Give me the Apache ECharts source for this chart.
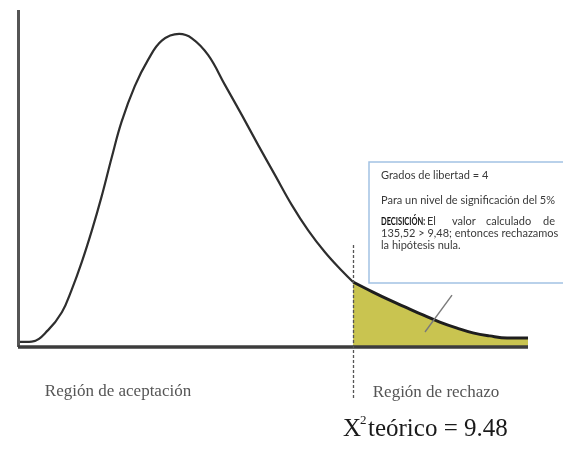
<!DOCTYPE html>
<html>
<head>
<meta charset="utf-8">
<script src="https://cdn.jsdelivr.net/npm/echarts@6/dist/echarts.min.js"></script>
<style>html,body{margin:0;padding:0;background:#fff}#c{width:563px;height:450px}</style>
</head>
<body>
<div id="c"></div>
<script>
// Curve (acceptance part)
const curveX = [0, 2.7, 5.9, 8.6, 10.5, 12.5, 14.5, 16.4, 18.4, 20.3, 22.9, 25.5, 28.2, 31.6, 34.1, 37.3, 40.6, 43.9, 47.1, 50.4, 53.7, 56.9, 60.2, 63.5, 65.7];
const curveY = [1.5, 1.6, 5.0, 10.3, 16.9, 25.2, 34.7, 44.7, 56.4, 66.8, 77.4, 85.2, 90.9, 92.9, 91.6, 86.6, 77.7, 68.8, 59.9, 51.0, 42.1, 34.6, 28.1, 22.6, 19.3];
// Tail (rejection region)
const tailX = [65.7, 69.6, 72.9, 76.3, 79.4, 82.7, 86.1, 89.2, 92.5, 95.9, 100];
const tailY = [19.3, 16.3, 13.9, 11.6, 9.5, 7.4, 5.6, 4.2, 3.3, 2.7, 2.7];
const critical = 65.7;
const regionLabels = ['Región de aceptación', 'Región de rechazo'];
const boxLines = ['Grados de libertad = 4', 'Para un nivel de significación del 5%'];
const decisionHead = 'DECISICIÓN:';
const decisionWords = ['El', 'valor', 'calculado', 'de'];
const decisionLine2 = '135,52 > 9,48; entonces rechazamos';
const decisionLine3 = 'la hipótesis nula.';
const chiLabel = ['X', '2', 'teórico = 9.48'];

const chart = echarts.init(document.getElementById('c'), null, {renderer: 'canvas'});
const zip = (a, b) => a.map((v, i) => [v, b[i]]);
const mlStyle = (c, w, t) => ({color: c, width: w, type: t || 'solid'});
const boxFont = '11px Lato';
const boxText = (x, y, text, extra) => Object.assign({type: 'text', x: x, y: y, z: 11,
  style: {text: text, font: boxFont, fill: '#3a3a3a', verticalAlign: 'middle'}}, extra || {});

const option = {
  animation: false,
  backgroundColor: '#fff',
  grid: {left: 18, right: 35, top: 10, bottom: 1.9},
  xAxis: {type: 'value', min: 0, max: 100, show: false},
  yAxis: {type: 'value', min: -30, max: 100, show: false},
  series: [
    {
      type: 'line', data: zip(curveX, curveY), smooth: 0.4, symbol: 'none',
      lineStyle: {color: '#2e2e2e', width: 2.2}, z: 3,
      markLine: {
        silent: true, symbol: 'none', animation: false,
        label: {show: false},
        data: [
          [{coord: [0, 0], lineStyle: mlStyle('#555', 3)}, {coord: [0, 100]}],
          [{coord: [0, 0], lineStyle: mlStyle('#3c3c3c', 3.5)}, {coord: [100, 0]}],
          [{coord: [critical, 30.3], lineStyle: {color: '#555', width: 1.3, type: [3, 2]}}, {coord: [critical, -15.7]}],
          [{coord: [-0.2, -8], lineStyle: mlStyle('#333', 2)}, {coord: [100.4, -8]}],
          [{coord: [-0.2, -8], lineStyle: mlStyle('#333', 2)}, {coord: [2, -4.5]}],
          [{coord: [-0.2, -8], lineStyle: mlStyle('#333', 2)}, {coord: [2, -11.5]}],
          [{coord: [100.4, -8], lineStyle: mlStyle('#333', 2)}, {coord: [98.2, -4.5]}],
          [{coord: [100.4, -8], lineStyle: mlStyle('#333', 2)}, {coord: [98.4, -11.2]}],
          [{coord: [79.8, 4.45], lineStyle: mlStyle('#7a7a7a', 1.4)}, {coord: [85.1, 15.4]}]
        ]
      }
    },
    {
      type: 'line', data: zip(tailX, tailY), smooth: 0.4, symbol: 'none',
      lineStyle: {color: '#1e1e1e', width: 3}, z: 2,
      areaStyle: {color: '#c9c450', opacity: 1}
    }
  ],
  graphic: [
    {type: 'text', x: 118, y: 392, style: {text: regionLabels[0], font: '17px "Liberation Serif"', fill: '#555', align: 'center', verticalAlign: 'middle'}},
    {type: 'text', x: 436, y: 393, style: {text: regionLabels[1], font: '17px "Liberation Serif"', fill: '#555', align: 'center', verticalAlign: 'middle'}},
    {type: 'text', x: 343, y: 429, style: {text: chiLabel[0], font: '25px "Liberation Serif"', fill: '#1a1a1a', align: 'left', verticalAlign: 'middle'}},
    {type: 'text', x: 360, y: 421, style: {text: chiLabel[1], font: '13px "Liberation Serif"', fill: '#1a1a1a', align: 'left', verticalAlign: 'middle'}},
    {type: 'text', x: 368, y: 429, style: {text: chiLabel[2], font: '25px "Liberation Serif"', fill: '#1a1a1a', align: 'left', verticalAlign: 'middle'}},
    {type: 'rect', shape: {x: 369, y: 162, width: 210, height: 121}, style: {fill: '#fff', stroke: '#a3c2e3', lineWidth: 1.5}, z: 10},
    boxText(381, 175, boxLines[0]),
    boxText(381, 200, boxLines[1]),
    boxText(381, 221, decisionHead, {scaleX: 0.68, style: {text: decisionHead, font: 'bold 11px Lato', fill: '#111', verticalAlign: 'middle'}}),
    boxText(427, 221, decisionWords[0]),
    boxText(452, 221, decisionWords[1]),
    boxText(486, 221, decisionWords[2]),
    boxText(543, 221, decisionWords[3]),
    boxText(381, 233, decisionLine2),
    boxText(381, 245, decisionLine3)
  ]
};
chart.setOption(option);
</script>
</body>
</html>
